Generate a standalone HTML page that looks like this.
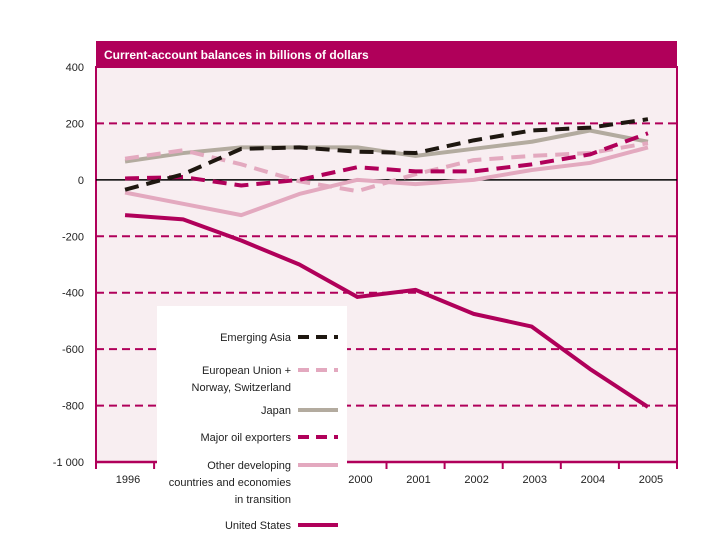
<!DOCTYPE html>
<html><head><meta charset="utf-8"><style>
body{margin:0;background:#fff;}
svg{display:block;font-family:"Liberation Sans",sans-serif;}
</style></head><body>
<svg id="c" width="720" height="540"></svg>
<script>
const years=["1996","1997","1998","1999","2000","2001","2002","2003","2004","2005"];
const yTicks=[400,200,0,-200,-400,-600,-800,-1000];
const usValues=[-125,-140,-215,-300,-415,-390,-475,-520,-670,-805];
const asiaValues=[-35,20,110,115,100,95,140,175,185,215];
const euValues=[75,105,55,-5,-40,20,70,85,95,130];
const japanValues=[65,95,115,115,115,85,110,135,175,135];
const oilValues=[5,10,-20,0,45,30,30,55,90,165];
const otherValues=[-45,-85,-125,-50,0,-15,0,35,60,115];
const NS="http://www.w3.org/2000/svg";
const svg=document.getElementById('c');
const L=96,R=677,T=67,B=462;
const band=(R-L)/years.length;
const x=i=>L+band*(i+0.5);
const y=v=>T+(400-v)/1400*(B-T);
function mk(tag,a,parent){const e=document.createElementNS(NS,tag);for(const k in a)e.setAttribute(k,a[k]);(parent||svg).appendChild(e);return e;}
const MAG="#b0005a";
let e;
e=mk('rect',{x:L,y:41,width:R-L,height:T-41,fill:MAG});

e=mk('text',{x:L+8,y:59,fill:"#fff","font-size":12,"font-weight":"bold"});e.textContent="Current-account balances in billions of dollars";

e=mk('rect',{x:L,y:T,width:R-L,height:B-T,fill:"#f8eef1",stroke:MAG,"stroke-width":2});

yTicks.forEach(v=>{
  if(v!==400&&v!==-1000&&v!==0){const g=mk('line',{x1:L,x2:R,y1:y(v),y2:y(v),stroke:MAG,"stroke-width":2,"stroke-dasharray":"8,5"});
  }
  const t=mk('text',{x:84,y:y(v)+4,"text-anchor":"end","font-size":11,fill:"#222"});t.textContent=v===-1000?"-1 000":String(v);
  
});
e=mk('line',{x1:L,x2:R,y1:y(0),y2:y(0),stroke:"#000","stroke-width":1.5});

e=mk('line',{x1:L-1,x2:R+1,y1:B,y2:B,stroke:MAG,"stroke-width":2.5});

for(let i=0;i<=years.length;i++){const t=mk('line',{x1:L+band*i,x2:L+band*i,y1:B,y2:B+7,stroke:MAG,"stroke-width":2});
}
years.forEach((yr,i)=>{const t=mk('text',{x:x(i)+3,y:B+21,"text-anchor":"middle","font-size":11,fill:"#222"});t.textContent=yr;
});
const series=[
 {n:'japan',v:japanValues,c:"#b3ab9f",d:null,w:4},
 {n:'european-union',v:euValues,c:"#e3a9bf",d:"14,8",w:4},
 {n:'other-developing',v:otherValues,c:"#e3a9bf",d:null,w:4},
 {n:'major-oil-exporters',v:oilValues,c:MAG,d:"14,8",w:4},
 {n:'emerging-asia',v:asiaValues,c:"#1e1710",d:"14,8",w:4},
 {n:'united-states',v:usValues,c:MAG,d:null,w:4}];
series.forEach(s=>{
  const p=mk('polyline',{points:s.v.map((v,i)=>x(i)+","+y(v)).join(" "),fill:"none",stroke:s.c,"stroke-width":s.w,"stroke-linejoin":"round"});
  if(s.d)p.setAttribute('stroke-dasharray',s.d);
  
});
e=mk('rect',{x:157,y:306,width:190,height:234,fill:"#fff"});

const leg=[
 {l:["Emerging Asia"],y:337,c:"#1e1710",d:true},
 {l:["European Union +","Norway, Switzerland"],y:370,c:"#e3a9bf",d:true},
 {l:["Japan"],y:410,c:"#b3ab9f",d:false},
 {l:["Major oil exporters"],y:437,c:MAG,d:true},
 {l:["Other developing","countries and economies","in transition"],y:465,c:"#e3a9bf",d:false},
 {l:["United States"],y:525,c:MAG,d:false}];
leg.forEach(g=>{
  g.l.forEach((s,k)=>{const t=mk('text',{x:291,y:g.y+4+k*17,"text-anchor":"end","font-size":11,fill:"#222"});t.textContent=s;
  });
  const ln=mk('line',{x1:298,x2:338,y1:g.y,y2:g.y,stroke:g.c,"stroke-width":4});
  if(g.d)ln.setAttribute('stroke-dasharray',"11,7");
  
});
</script>
</body></html>
